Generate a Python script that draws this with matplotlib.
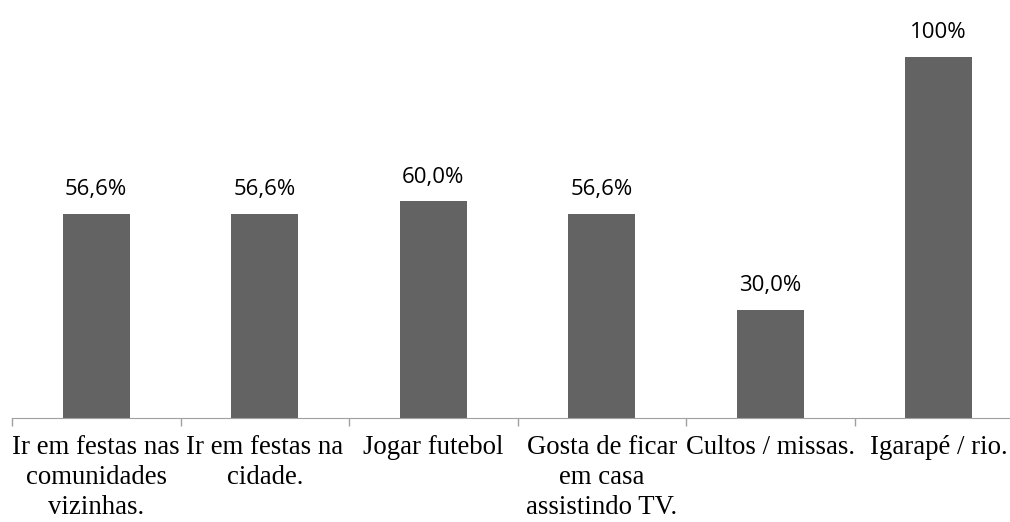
import numpy as np
import matplotlib.pyplot as plt
plt.switch_backend('agg')


categories = ['Ir em festas nas\ncomunidades\nvizinhas.',
              'Ir em festas na\ncidade.',
              'Jogar futebol',
              'Gosta de ficar\nem casa\nassistindo TV.',
              'Cultos / missas.',
              'Igarapé / rio.']
values = [56.6, 56.6, 60.0, 56.6, 30.0, 100.0]
value_labels = ['56,6%', '56,6%', '60,0%', '56,6%', '30,0%', '100%']


W, H = 1010, 522
fig = plt.figure(figsize=(W / 100, H / 100), dpi=100)
ax = fig.add_axes([12 / W, (H - 418) / H, 1011 / W, (418 - 57) / H])

x = np.arange(len(values))
ax.bar(x, values, width=0.4, color='#636363')

for xi, v, lab in zip(x, values, value_labels):
    ax.annotate(lab, (xi, v), xytext=(0, 17.5), textcoords='offset points',
                ha='center', va='center', fontsize=16, family='Open Sans',
                color='black')

ax.set_xlim(-0.5, len(values) - 0.5)
ax.set_ylim(0, 100)

ax.set_xticks(x)
ax.set_xticklabels(categories, family='Liberation Serif', fontsize=19.3,
                   linespacing=1.28)
ax.set_xticks(np.arange(len(values) + 1) - 0.5, minor=True)
ax.tick_params(axis='x', which='major', length=0, pad=12)
ax.tick_params(axis='x', which='minor', length=6, color='#a0a0a0', width=1)
ax.set_yticks([])

for s in ['left', 'right', 'top']:
    ax.spines[s].set_visible(False)
ax.spines['bottom'].set_color('#a0a0a0')

fig.savefig('out.png', dpi=100)
